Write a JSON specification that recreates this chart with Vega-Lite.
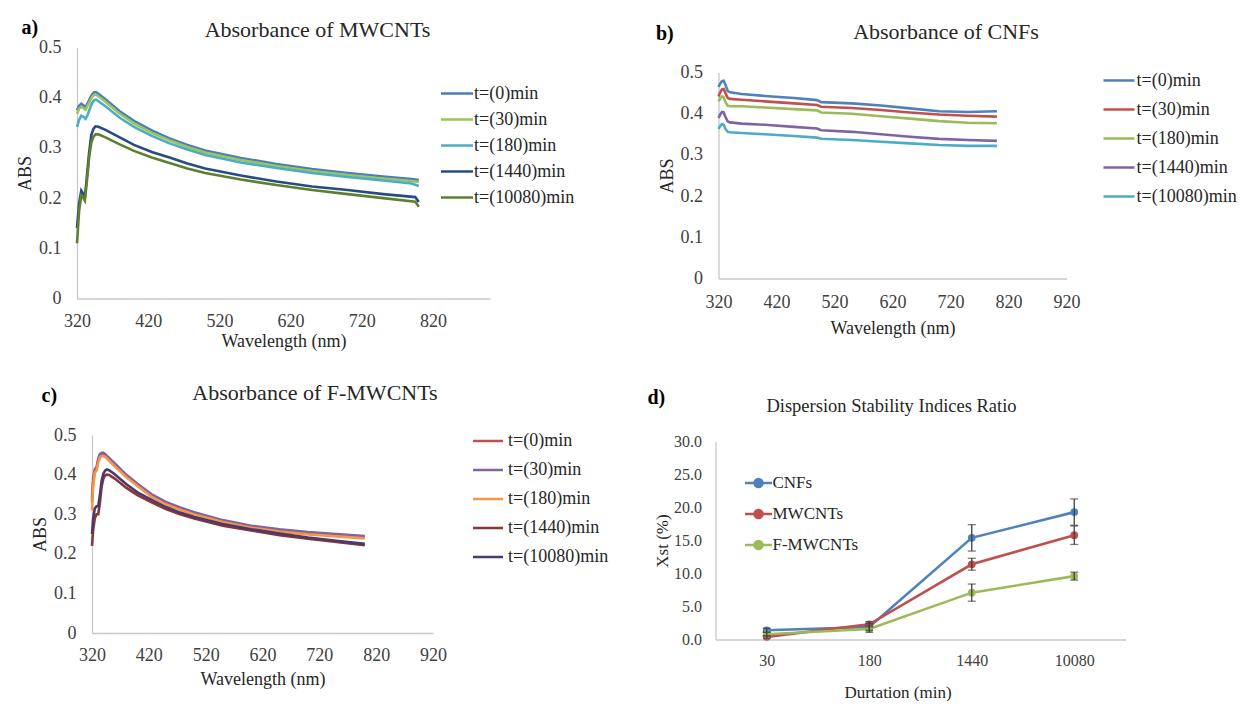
{
  "$schema": "https://vega.github.io/schema/vega-lite/v6.json",
  "background": "white",
  "padding": {"left": 16, "top": 17.5, "right": 0, "bottom": 0},
  "config": {
    "font": "Liberation Serif",
    "view": {"stroke": null},
    "axis": {"grid": false, "ticks": false, "labelFlush": false, "labelOverlap": false, "domainColor": "#C8C8C8", "domainWidth": 1.3, "labelColor": "#404040", "titleColor": "#262626", "labelFont": "Liberation Serif", "titleFont": "Liberation Serif", "labelFontSize": 18, "titleFontSize": 18, "titleFontWeight": "normal", "labelPadding": 14, "titlePadding": 4},
    "legend": {"labelFont": "Liberation Serif", "labelColor": "#262626", "labelFontSize": 18, "orient": "none", "title": null, "symbolSize": 100, "symbolStrokeWidth": 2.5},
    "title": {"font": "Liberation Serif", "fontWeight": "normal", "fontSize": 22, "color": "#262626"}
  },
  "datasets": {
    "mw": [
      {"s": "t=(0)min", "nm": 320, "v": 0.375}, {"s": "t=(0)min", "nm": 323, "v": 0.384}, {"s": "t=(0)min", "nm": 326, "v": 0.388}, {"s": "t=(0)min", "nm": 329, "v": 0.385}, {"s": "t=(0)min", "nm": 332, "v": 0.381}, {"s": "t=(0)min", "nm": 335, "v": 0.389}, {"s": "t=(0)min", "nm": 338, "v": 0.398}, {"s": "t=(0)min", "nm": 341, "v": 0.406}, {"s": "t=(0)min", "nm": 344, "v": 0.411}, {"s": "t=(0)min", "nm": 347, "v": 0.411}, {"s": "t=(0)min", "nm": 350, "v": 0.408}, {"s": "t=(0)min", "nm": 360, "v": 0.397}, {"s": "t=(0)min", "nm": 380, "v": 0.373}, {"s": "t=(0)min", "nm": 400, "v": 0.354}, {"s": "t=(0)min", "nm": 425, "v": 0.335}, {"s": "t=(0)min", "nm": 450, "v": 0.319}, {"s": "t=(0)min", "nm": 475, "v": 0.306}, {"s": "t=(0)min", "nm": 500, "v": 0.295}, {"s": "t=(0)min", "nm": 550, "v": 0.28}, {"s": "t=(0)min", "nm": 600, "v": 0.268}, {"s": "t=(0)min", "nm": 650, "v": 0.258}, {"s": "t=(0)min", "nm": 700, "v": 0.25}, {"s": "t=(0)min", "nm": 750, "v": 0.243}, {"s": "t=(0)min", "nm": 790, "v": 0.238}, {"s": "t=(0)min", "nm": 800, "v": 0.236},
      {"s": "t=(30)min", "nm": 320, "v": 0.368}, {"s": "t=(30)min", "nm": 323, "v": 0.378}, {"s": "t=(30)min", "nm": 326, "v": 0.382}, {"s": "t=(30)min", "nm": 329, "v": 0.379}, {"s": "t=(30)min", "nm": 332, "v": 0.376}, {"s": "t=(30)min", "nm": 335, "v": 0.384}, {"s": "t=(30)min", "nm": 338, "v": 0.393}, {"s": "t=(30)min", "nm": 341, "v": 0.401}, {"s": "t=(30)min", "nm": 344, "v": 0.406}, {"s": "t=(30)min", "nm": 347, "v": 0.406}, {"s": "t=(30)min", "nm": 350, "v": 0.403}, {"s": "t=(30)min", "nm": 360, "v": 0.392}, {"s": "t=(30)min", "nm": 380, "v": 0.368}, {"s": "t=(30)min", "nm": 400, "v": 0.349}, {"s": "t=(30)min", "nm": 425, "v": 0.33}, {"s": "t=(30)min", "nm": 450, "v": 0.315}, {"s": "t=(30)min", "nm": 475, "v": 0.302}, {"s": "t=(30)min", "nm": 500, "v": 0.291}, {"s": "t=(30)min", "nm": 550, "v": 0.276}, {"s": "t=(30)min", "nm": 600, "v": 0.264}, {"s": "t=(30)min", "nm": 650, "v": 0.254}, {"s": "t=(30)min", "nm": 700, "v": 0.246}, {"s": "t=(30)min", "nm": 750, "v": 0.239}, {"s": "t=(30)min", "nm": 790, "v": 0.234}, {"s": "t=(30)min", "nm": 800, "v": 0.232},
      {"s": "t=(180)min", "nm": 320, "v": 0.342}, {"s": "t=(180)min", "nm": 323, "v": 0.356}, {"s": "t=(180)min", "nm": 326, "v": 0.364}, {"s": "t=(180)min", "nm": 329, "v": 0.362}, {"s": "t=(180)min", "nm": 332, "v": 0.358}, {"s": "t=(180)min", "nm": 335, "v": 0.366}, {"s": "t=(180)min", "nm": 338, "v": 0.378}, {"s": "t=(180)min", "nm": 341, "v": 0.389}, {"s": "t=(180)min", "nm": 344, "v": 0.395}, {"s": "t=(180)min", "nm": 347, "v": 0.396}, {"s": "t=(180)min", "nm": 350, "v": 0.393}, {"s": "t=(180)min", "nm": 360, "v": 0.383}, {"s": "t=(180)min", "nm": 380, "v": 0.36}, {"s": "t=(180)min", "nm": 400, "v": 0.342}, {"s": "t=(180)min", "nm": 425, "v": 0.324}, {"s": "t=(180)min", "nm": 450, "v": 0.309}, {"s": "t=(180)min", "nm": 475, "v": 0.297}, {"s": "t=(180)min", "nm": 500, "v": 0.286}, {"s": "t=(180)min", "nm": 550, "v": 0.271}, {"s": "t=(180)min", "nm": 600, "v": 0.26}, {"s": "t=(180)min", "nm": 650, "v": 0.25}, {"s": "t=(180)min", "nm": 700, "v": 0.242}, {"s": "t=(180)min", "nm": 750, "v": 0.235}, {"s": "t=(180)min", "nm": 790, "v": 0.229}, {"s": "t=(180)min", "nm": 800, "v": 0.224},
      {"s": "t=(1440)min", "nm": 320, "v": 0.14}, {"s": "t=(1440)min", "nm": 323, "v": 0.19}, {"s": "t=(1440)min", "nm": 326, "v": 0.215}, {"s": "t=(1440)min", "nm": 329, "v": 0.208}, {"s": "t=(1440)min", "nm": 331, "v": 0.2}, {"s": "t=(1440)min", "nm": 334, "v": 0.245}, {"s": "t=(1440)min", "nm": 337, "v": 0.29}, {"s": "t=(1440)min", "nm": 340, "v": 0.325}, {"s": "t=(1440)min", "nm": 343, "v": 0.338}, {"s": "t=(1440)min", "nm": 346, "v": 0.343}, {"s": "t=(1440)min", "nm": 350, "v": 0.342}, {"s": "t=(1440)min", "nm": 360, "v": 0.336}, {"s": "t=(1440)min", "nm": 380, "v": 0.321}, {"s": "t=(1440)min", "nm": 400, "v": 0.306}, {"s": "t=(1440)min", "nm": 425, "v": 0.292}, {"s": "t=(1440)min", "nm": 450, "v": 0.281}, {"s": "t=(1440)min", "nm": 475, "v": 0.269}, {"s": "t=(1440)min", "nm": 500, "v": 0.259}, {"s": "t=(1440)min", "nm": 550, "v": 0.245}, {"s": "t=(1440)min", "nm": 600, "v": 0.233}, {"s": "t=(1440)min", "nm": 650, "v": 0.223}, {"s": "t=(1440)min", "nm": 700, "v": 0.216}, {"s": "t=(1440)min", "nm": 750, "v": 0.208}, {"s": "t=(1440)min", "nm": 795, "v": 0.202}, {"s": "t=(1440)min", "nm": 800, "v": 0.192},
      {"s": "t=(10080)min", "nm": 320, "v": 0.11}, {"s": "t=(10080)min", "nm": 323, "v": 0.175}, {"s": "t=(10080)min", "nm": 326, "v": 0.205}, {"s": "t=(10080)min", "nm": 329, "v": 0.2}, {"s": "t=(10080)min", "nm": 331, "v": 0.195}, {"s": "t=(10080)min", "nm": 334, "v": 0.235}, {"s": "t=(10080)min", "nm": 337, "v": 0.28}, {"s": "t=(10080)min", "nm": 340, "v": 0.31}, {"s": "t=(10080)min", "nm": 343, "v": 0.322}, {"s": "t=(10080)min", "nm": 346, "v": 0.327}, {"s": "t=(10080)min", "nm": 350, "v": 0.327}, {"s": "t=(10080)min", "nm": 360, "v": 0.321}, {"s": "t=(10080)min", "nm": 380, "v": 0.307}, {"s": "t=(10080)min", "nm": 400, "v": 0.294}, {"s": "t=(10080)min", "nm": 425, "v": 0.281}, {"s": "t=(10080)min", "nm": 450, "v": 0.27}, {"s": "t=(10080)min", "nm": 475, "v": 0.259}, {"s": "t=(10080)min", "nm": 500, "v": 0.25}, {"s": "t=(10080)min", "nm": 550, "v": 0.237}, {"s": "t=(10080)min", "nm": 600, "v": 0.226}, {"s": "t=(10080)min", "nm": 650, "v": 0.216}, {"s": "t=(10080)min", "nm": 700, "v": 0.208}, {"s": "t=(10080)min", "nm": 750, "v": 0.2}, {"s": "t=(10080)min", "nm": 795, "v": 0.193}, {"s": "t=(10080)min", "nm": 800, "v": 0.183}
    ],
    "cnf": [
      {"s": "t=(0)min", "nm": 320, "v": 0.465}, {"s": "t=(0)min", "nm": 323, "v": 0.473}, {"s": "t=(0)min", "nm": 326, "v": 0.479}, {"s": "t=(0)min", "nm": 329, "v": 0.48}, {"s": "t=(0)min", "nm": 332, "v": 0.47}, {"s": "t=(0)min", "nm": 336, "v": 0.455}, {"s": "t=(0)min", "nm": 340, "v": 0.452}, {"s": "t=(0)min", "nm": 360, "v": 0.448}, {"s": "t=(0)min", "nm": 400, "v": 0.443}, {"s": "t=(0)min", "nm": 450, "v": 0.438}, {"s": "t=(0)min", "nm": 490, "v": 0.433}, {"s": "t=(0)min", "nm": 497, "v": 0.428}, {"s": "t=(0)min", "nm": 550, "v": 0.425}, {"s": "t=(0)min", "nm": 600, "v": 0.42}, {"s": "t=(0)min", "nm": 650, "v": 0.413}, {"s": "t=(0)min", "nm": 700, "v": 0.406}, {"s": "t=(0)min", "nm": 750, "v": 0.404}, {"s": "t=(0)min", "nm": 800, "v": 0.406},
      {"s": "t=(30)min", "nm": 320, "v": 0.442}, {"s": "t=(30)min", "nm": 323, "v": 0.452}, {"s": "t=(30)min", "nm": 326, "v": 0.459}, {"s": "t=(30)min", "nm": 329, "v": 0.46}, {"s": "t=(30)min", "nm": 332, "v": 0.45}, {"s": "t=(30)min", "nm": 336, "v": 0.438}, {"s": "t=(30)min", "nm": 340, "v": 0.436}, {"s": "t=(30)min", "nm": 360, "v": 0.434}, {"s": "t=(30)min", "nm": 400, "v": 0.43}, {"s": "t=(30)min", "nm": 450, "v": 0.425}, {"s": "t=(30)min", "nm": 490, "v": 0.421}, {"s": "t=(30)min", "nm": 497, "v": 0.417}, {"s": "t=(30)min", "nm": 550, "v": 0.414}, {"s": "t=(30)min", "nm": 600, "v": 0.409}, {"s": "t=(30)min", "nm": 650, "v": 0.403}, {"s": "t=(30)min", "nm": 700, "v": 0.398}, {"s": "t=(30)min", "nm": 750, "v": 0.395}, {"s": "t=(30)min", "nm": 800, "v": 0.393},
      {"s": "t=(180)min", "nm": 320, "v": 0.43}, {"s": "t=(180)min", "nm": 323, "v": 0.437}, {"s": "t=(180)min", "nm": 326, "v": 0.442}, {"s": "t=(180)min", "nm": 329, "v": 0.44}, {"s": "t=(180)min", "nm": 332, "v": 0.428}, {"s": "t=(180)min", "nm": 336, "v": 0.419}, {"s": "t=(180)min", "nm": 340, "v": 0.418}, {"s": "t=(180)min", "nm": 360, "v": 0.418}, {"s": "t=(180)min", "nm": 400, "v": 0.415}, {"s": "t=(180)min", "nm": 450, "v": 0.411}, {"s": "t=(180)min", "nm": 490, "v": 0.408}, {"s": "t=(180)min", "nm": 497, "v": 0.403}, {"s": "t=(180)min", "nm": 550, "v": 0.4}, {"s": "t=(180)min", "nm": 600, "v": 0.394}, {"s": "t=(180)min", "nm": 650, "v": 0.388}, {"s": "t=(180)min", "nm": 700, "v": 0.382}, {"s": "t=(180)min", "nm": 750, "v": 0.378}, {"s": "t=(180)min", "nm": 800, "v": 0.377},
      {"s": "t=(1440)min", "nm": 320, "v": 0.39}, {"s": "t=(1440)min", "nm": 323, "v": 0.398}, {"s": "t=(1440)min", "nm": 326, "v": 0.404}, {"s": "t=(1440)min", "nm": 329, "v": 0.403}, {"s": "t=(1440)min", "nm": 332, "v": 0.392}, {"s": "t=(1440)min", "nm": 336, "v": 0.381}, {"s": "t=(1440)min", "nm": 340, "v": 0.379}, {"s": "t=(1440)min", "nm": 360, "v": 0.376}, {"s": "t=(1440)min", "nm": 400, "v": 0.373}, {"s": "t=(1440)min", "nm": 450, "v": 0.368}, {"s": "t=(1440)min", "nm": 490, "v": 0.364}, {"s": "t=(1440)min", "nm": 497, "v": 0.36}, {"s": "t=(1440)min", "nm": 550, "v": 0.356}, {"s": "t=(1440)min", "nm": 600, "v": 0.35}, {"s": "t=(1440)min", "nm": 650, "v": 0.344}, {"s": "t=(1440)min", "nm": 700, "v": 0.339}, {"s": "t=(1440)min", "nm": 750, "v": 0.336}, {"s": "t=(1440)min", "nm": 800, "v": 0.334},
      {"s": "t=(10080)min", "nm": 320, "v": 0.363}, {"s": "t=(10080)min", "nm": 323, "v": 0.37}, {"s": "t=(10080)min", "nm": 326, "v": 0.375}, {"s": "t=(10080)min", "nm": 329, "v": 0.373}, {"s": "t=(10080)min", "nm": 332, "v": 0.363}, {"s": "t=(10080)min", "nm": 336, "v": 0.356}, {"s": "t=(10080)min", "nm": 340, "v": 0.355}, {"s": "t=(10080)min", "nm": 360, "v": 0.353}, {"s": "t=(10080)min", "nm": 400, "v": 0.35}, {"s": "t=(10080)min", "nm": 450, "v": 0.346}, {"s": "t=(10080)min", "nm": 490, "v": 0.342}, {"s": "t=(10080)min", "nm": 497, "v": 0.339}, {"s": "t=(10080)min", "nm": 550, "v": 0.336}, {"s": "t=(10080)min", "nm": 600, "v": 0.332}, {"s": "t=(10080)min", "nm": 650, "v": 0.328}, {"s": "t=(10080)min", "nm": 700, "v": 0.324}, {"s": "t=(10080)min", "nm": 750, "v": 0.322}, {"s": "t=(10080)min", "nm": 800, "v": 0.322}
    ],
    "fmw": [
      {"s": "t=(0)min", "nm": 320, "v": 0.34}, {"s": "t=(0)min", "nm": 322, "v": 0.39}, {"s": "t=(0)min", "nm": 325, "v": 0.414}, {"s": "t=(0)min", "nm": 328, "v": 0.418}, {"s": "t=(0)min", "nm": 331, "v": 0.438}, {"s": "t=(0)min", "nm": 334, "v": 0.45}, {"s": "t=(0)min", "nm": 337, "v": 0.453}, {"s": "t=(0)min", "nm": 340, "v": 0.453}, {"s": "t=(0)min", "nm": 343, "v": 0.45}, {"s": "t=(0)min", "nm": 346, "v": 0.446}, {"s": "t=(0)min", "nm": 350, "v": 0.44}, {"s": "t=(0)min", "nm": 360, "v": 0.426}, {"s": "t=(0)min", "nm": 380, "v": 0.398}, {"s": "t=(0)min", "nm": 400, "v": 0.375}, {"s": "t=(0)min", "nm": 425, "v": 0.348}, {"s": "t=(0)min", "nm": 450, "v": 0.329}, {"s": "t=(0)min", "nm": 475, "v": 0.315}, {"s": "t=(0)min", "nm": 500, "v": 0.303}, {"s": "t=(0)min", "nm": 550, "v": 0.283}, {"s": "t=(0)min", "nm": 600, "v": 0.269}, {"s": "t=(0)min", "nm": 650, "v": 0.26}, {"s": "t=(0)min", "nm": 700, "v": 0.253}, {"s": "t=(0)min", "nm": 750, "v": 0.248}, {"s": "t=(0)min", "nm": 800, "v": 0.243},
      {"s": "t=(30)min", "nm": 320, "v": 0.33}, {"s": "t=(30)min", "nm": 322, "v": 0.38}, {"s": "t=(30)min", "nm": 325, "v": 0.41}, {"s": "t=(30)min", "nm": 328, "v": 0.415}, {"s": "t=(30)min", "nm": 331, "v": 0.44}, {"s": "t=(30)min", "nm": 334, "v": 0.452}, {"s": "t=(30)min", "nm": 337, "v": 0.455}, {"s": "t=(30)min", "nm": 340, "v": 0.455}, {"s": "t=(30)min", "nm": 343, "v": 0.452}, {"s": "t=(30)min", "nm": 346, "v": 0.448}, {"s": "t=(30)min", "nm": 350, "v": 0.442}, {"s": "t=(30)min", "nm": 360, "v": 0.428}, {"s": "t=(30)min", "nm": 380, "v": 0.4}, {"s": "t=(30)min", "nm": 400, "v": 0.377}, {"s": "t=(30)min", "nm": 425, "v": 0.35}, {"s": "t=(30)min", "nm": 450, "v": 0.331}, {"s": "t=(30)min", "nm": 475, "v": 0.317}, {"s": "t=(30)min", "nm": 500, "v": 0.305}, {"s": "t=(30)min", "nm": 550, "v": 0.285}, {"s": "t=(30)min", "nm": 600, "v": 0.271}, {"s": "t=(30)min", "nm": 650, "v": 0.262}, {"s": "t=(30)min", "nm": 700, "v": 0.255}, {"s": "t=(30)min", "nm": 750, "v": 0.25}, {"s": "t=(30)min", "nm": 800, "v": 0.245},
      {"s": "t=(180)min", "nm": 320, "v": 0.31}, {"s": "t=(180)min", "nm": 322, "v": 0.37}, {"s": "t=(180)min", "nm": 325, "v": 0.405}, {"s": "t=(180)min", "nm": 328, "v": 0.41}, {"s": "t=(180)min", "nm": 331, "v": 0.43}, {"s": "t=(180)min", "nm": 334, "v": 0.443}, {"s": "t=(180)min", "nm": 337, "v": 0.447}, {"s": "t=(180)min", "nm": 340, "v": 0.447}, {"s": "t=(180)min", "nm": 343, "v": 0.445}, {"s": "t=(180)min", "nm": 346, "v": 0.441}, {"s": "t=(180)min", "nm": 350, "v": 0.435}, {"s": "t=(180)min", "nm": 360, "v": 0.421}, {"s": "t=(180)min", "nm": 380, "v": 0.394}, {"s": "t=(180)min", "nm": 400, "v": 0.371}, {"s": "t=(180)min", "nm": 425, "v": 0.344}, {"s": "t=(180)min", "nm": 450, "v": 0.325}, {"s": "t=(180)min", "nm": 475, "v": 0.311}, {"s": "t=(180)min", "nm": 500, "v": 0.299}, {"s": "t=(180)min", "nm": 550, "v": 0.28}, {"s": "t=(180)min", "nm": 600, "v": 0.266}, {"s": "t=(180)min", "nm": 650, "v": 0.256}, {"s": "t=(180)min", "nm": 700, "v": 0.249}, {"s": "t=(180)min", "nm": 750, "v": 0.244}, {"s": "t=(180)min", "nm": 800, "v": 0.239},
      {"s": "t=(1440)min", "nm": 320, "v": 0.22}, {"s": "t=(1440)min", "nm": 322, "v": 0.26}, {"s": "t=(1440)min", "nm": 325, "v": 0.29}, {"s": "t=(1440)min", "nm": 328, "v": 0.3}, {"s": "t=(1440)min", "nm": 331, "v": 0.3}, {"s": "t=(1440)min", "nm": 334, "v": 0.33}, {"s": "t=(1440)min", "nm": 337, "v": 0.37}, {"s": "t=(1440)min", "nm": 340, "v": 0.39}, {"s": "t=(1440)min", "nm": 343, "v": 0.398}, {"s": "t=(1440)min", "nm": 346, "v": 0.4}, {"s": "t=(1440)min", "nm": 350, "v": 0.399}, {"s": "t=(1440)min", "nm": 360, "v": 0.39}, {"s": "t=(1440)min", "nm": 380, "v": 0.367}, {"s": "t=(1440)min", "nm": 400, "v": 0.348}, {"s": "t=(1440)min", "nm": 425, "v": 0.33}, {"s": "t=(1440)min", "nm": 450, "v": 0.313}, {"s": "t=(1440)min", "nm": 475, "v": 0.3}, {"s": "t=(1440)min", "nm": 500, "v": 0.289}, {"s": "t=(1440)min", "nm": 550, "v": 0.271}, {"s": "t=(1440)min", "nm": 600, "v": 0.259}, {"s": "t=(1440)min", "nm": 650, "v": 0.247}, {"s": "t=(1440)min", "nm": 700, "v": 0.238}, {"s": "t=(1440)min", "nm": 750, "v": 0.23}, {"s": "t=(1440)min", "nm": 800, "v": 0.222},
      {"s": "t=(10080)min", "nm": 320, "v": 0.25}, {"s": "t=(10080)min", "nm": 322, "v": 0.29}, {"s": "t=(10080)min", "nm": 325, "v": 0.315}, {"s": "t=(10080)min", "nm": 328, "v": 0.32}, {"s": "t=(10080)min", "nm": 331, "v": 0.32}, {"s": "t=(10080)min", "nm": 334, "v": 0.35}, {"s": "t=(10080)min", "nm": 337, "v": 0.385}, {"s": "t=(10080)min", "nm": 340, "v": 0.402}, {"s": "t=(10080)min", "nm": 343, "v": 0.41}, {"s": "t=(10080)min", "nm": 346, "v": 0.413}, {"s": "t=(10080)min", "nm": 350, "v": 0.411}, {"s": "t=(10080)min", "nm": 360, "v": 0.401}, {"s": "t=(10080)min", "nm": 380, "v": 0.376}, {"s": "t=(10080)min", "nm": 400, "v": 0.355}, {"s": "t=(10080)min", "nm": 425, "v": 0.336}, {"s": "t=(10080)min", "nm": 450, "v": 0.318}, {"s": "t=(10080)min", "nm": 475, "v": 0.304}, {"s": "t=(10080)min", "nm": 500, "v": 0.293}, {"s": "t=(10080)min", "nm": 550, "v": 0.275}, {"s": "t=(10080)min", "nm": 600, "v": 0.262}, {"s": "t=(10080)min", "nm": 650, "v": 0.251}, {"s": "t=(10080)min", "nm": 700, "v": 0.241}, {"s": "t=(10080)min", "nm": 750, "v": 0.233}, {"s": "t=(10080)min", "nm": 800, "v": 0.225}
    ],
    "dsi": [
      {"m": "CNFs", "d": "30", "v": 1.4, "lo": 1.1, "hi": 1.7}, {"m": "CNFs", "d": "180", "v": 1.9, "lo": 1.4, "hi": 2.4}, {"m": "CNFs", "d": "1440", "v": 15.4, "lo": 13.4, "hi": 17.4}, {"m": "CNFs", "d": "10080", "v": 19.3, "lo": 17.3, "hi": 21.3},
      {"m": "MWCNTs", "d": "30", "v": 0.4, "lo": 0.2, "hi": 0.6}, {"m": "MWCNTs", "d": "180", "v": 2.3, "lo": 1.9, "hi": 2.7}, {"m": "MWCNTs", "d": "1440", "v": 11.4, "lo": 10.5, "hi": 12.3}, {"m": "MWCNTs", "d": "10080", "v": 15.8, "lo": 14.4, "hi": 17.2},
      {"m": "F-MWCNTs", "d": "30", "v": 0.8, "lo": 0.5, "hi": 1.1}, {"m": "F-MWCNTs", "d": "180", "v": 1.6, "lo": 1.1, "hi": 2.1}, {"m": "F-MWCNTs", "d": "1440", "v": 7.1, "lo": 5.8, "hi": 8.4}, {"m": "F-MWCNTs", "d": "10080", "v": 9.6, "lo": 9.0, "hi": 10.2}
    ]
  },
  "spacing": 38.5,
  "resolve": {"scale": {"x": "independent", "y": "independent", "color": "independent"}, "axis": {"x": "independent", "y": "independent"}, "legend": {"color": "independent"}},
  "hconcat": [
    {
      "spacing": 30.5,
      "resolve": {"scale": {"x": "independent", "y": "independent", "color": "independent"}, "axis": {"x": "independent", "y": "independent"}, "legend": {"color": "independent"}},
      "vconcat": [
        {
          "title": {"text": "a)", "anchor": "start", "frame": "bounds", "fontWeight": "bold", "fontSize": 20, "offset": -19, "dx": 5, "color": "#000000"},
          "resolve": {"scale": {"x": "independent", "y": "independent", "color": "independent"}, "axis": {"x": "independent", "y": "independent"}, "legend": {"color": "independent"}},
          "vconcat": [
            {
              "data": {"name": "mw"},
              "width": 413,
              "height": 251,
              "title": {"text": "Absorbance of MWCNTs", "frame": "group", "anchor": "middle", "dx": 34, "offset": -3.5},
              "mark": {"type": "line", "strokeWidth": 2.6},
              "encoding": {
                "x": {"field": "nm", "type": "quantitative", "scale": {"domain": [320, 900], "nice": false, "zero": false}, "axis": {"title": "Wavelength (nm)", "values": [320, 420, 520, 620, 720, 820], "labelPadding": 14, "titlePadding": 2}},
                "y": {"field": "v", "type": "quantitative", "scale": {"domain": [0, 0.5], "nice": false}, "axis": {"title": "ABS", "values": [0, 0.1, 0.2, 0.3, 0.4, 0.5], "format": "~g", "labelPadding": 16}},
                "color": {"field": "s", "type": "nominal", "scale": {"domain": ["t=(0)min", "t=(30)min", "t=(180)min", "t=(1440)min", "t=(10080)min"], "range": ["#4A7EBB", "#9DC35A", "#4BACC6", "#254E7E", "#5E7F2E"]}, "legend": {"legendX": 360, "legendY": 37, "symbolType": "M-1,0H5.4", "labelOffset": 19, "rowPadding": 8}}
              }
            }
          ]
        },
        {
          "title": {"text": "c)", "anchor": "start", "frame": "bounds", "fontWeight": "bold", "fontSize": 20, "offset": -24, "dx": 10, "color": "#000000"},
          "resolve": {"scale": {"x": "independent", "y": "independent", "color": "independent"}, "axis": {"x": "independent", "y": "independent"}, "legend": {"color": "independent"}},
          "vconcat": [
            {
              "data": {"name": "fmw"},
              "width": 356,
              "height": 198,
              "title": {"text": "Absorbance of F-MWCNTs", "frame": "group", "anchor": "middle", "dx": 60, "offset": 21.5},
              "mark": {"type": "line", "strokeWidth": 2.6},
              "encoding": {
                "x": {"field": "nm", "type": "quantitative", "scale": {"domain": [320, 920], "range": [15, 356], "nice": false, "zero": false}, "axis": {"title": "Wavelength (nm)", "values": [320, 420, 520, 620, 720, 820, 920], "labelPadding": 13, "titlePadding": 6}},
                "y": {"field": "v", "type": "quantitative", "scale": {"domain": [0, 0.5], "nice": false}, "axis": {"title": "ABS", "values": [0, 0.1, 0.2, 0.3, 0.4, 0.5], "format": "~g", "labelPadding": 16, "offset": -15}},
                "color": {"field": "s", "type": "nominal", "scale": {"domain": ["t=(0)min", "t=(30)min", "t=(180)min", "t=(1440)min", "t=(10080)min"], "range": ["#C0504D", "#8064A2", "#F79646", "#8A3533", "#4A3A6E"]}, "legend": {"legendX": 392, "legendY": -3, "symbolType": "M-1,0H5", "labelOffset": 21, "rowPadding": 11}}
              }
            }
          ]
        }
      ]
    },
    {
      "spacing": 50,
      "resolve": {"scale": {"x": "independent", "y": "independent", "color": "independent"}, "axis": {"x": "independent", "y": "independent"}, "legend": {"color": "independent"}},
      "vconcat": [
        {
          "title": {"text": "b)", "anchor": "start", "frame": "bounds", "fontWeight": "bold", "fontSize": 20, "offset": -23, "dx": -2, "color": "#000000"},
          "resolve": {"scale": {"x": "independent", "y": "independent", "color": "independent"}, "axis": {"x": "independent", "y": "independent"}, "legend": {"color": "independent"}},
          "vconcat": [
            {
              "data": {"name": "cnf"},
              "width": 351,
              "height": 231,
              "title": {"text": "Absorbance of CNFs", "frame": "group", "anchor": "middle", "dx": 55, "offset": 4},
              "mark": {"type": "line", "strokeWidth": 2.6},
              "encoding": {
                "x": {"field": "nm", "type": "quantitative", "scale": {"domain": [320, 920], "range": [3, 351], "nice": false, "zero": false}, "axis": {"title": "Wavelength (nm)", "values": [320, 420, 520, 620, 720, 820, 920], "labelPadding": 15, "titlePadding": 8}},
                "y": {"field": "v", "type": "quantitative", "scale": {"domain": [0, 0.5], "range": [231, 25], "nice": false}, "axis": {"title": "ABS", "values": [0, 0.1, 0.2, 0.3, 0.4, 0.5], "format": "~g", "labelPadding": 16, "offset": -3}},
                "color": {"field": "s", "type": "nominal", "scale": {"domain": ["t=(0)min", "t=(30)min", "t=(180)min", "t=(1440)min", "t=(10080)min"], "range": ["#4F81BD", "#C0504D", "#9BBB59", "#8064A2", "#4BACC6"]}, "legend": {"legendX": 384, "legendY": 24, "symbolType": "M-1,0H5.2", "labelOffset": 19, "rowPadding": 11}}
              }
            }
          ]
        },
        {
          "title": {"text": "d)", "anchor": "start", "frame": "bounds", "fontWeight": "bold", "fontSize": 20, "offset": -11, "dx": -6, "color": "#000000"},
          "resolve": {"scale": {"x": "independent", "y": "independent", "color": "independent"}, "axis": {"x": "independent", "y": "independent"}, "legend": {"color": "independent"}},
          "vconcat": [
            {
              "data": {"name": "dsi"},
              "width": 410,
              "height": 198,
              "title": {"text": "Dispersion Stability Indices Ratio", "frame": "group", "anchor": "middle", "dx": -29, "offset": 18, "fontSize": 18.5},
              "encoding": {
                "x": {"field": "d", "type": "ordinal", "sort": ["30", "180", "1440", "10080"], "scale": {"type": "point", "padding": 0.5}, "axis": {"title": "Durtation (min)", "labelAngle": 0, "labelFontSize": 16, "titleFontSize": 17, "labelPadding": 13, "titlePadding": 16, "titleX": 182}}
              },
              "layer": [
                {
                  "mark": {"type": "line", "strokeWidth": 2.6},
                  "encoding": {
                    "y": {"field": "v", "type": "quantitative", "scale": {"domain": [0, 30], "nice": false}, "axis": {"title": "Xst (%)", "values": [0, 5, 10, 15, 20, 25, 30], "format": ".1f", "labelFontSize": 16, "titleFontSize": 17, "labelPadding": 14, "titlePadding": 2}},
                    "color": {"field": "m", "type": "nominal", "scale": {"domain": ["CNFs", "MWCNTs", "F-MWCNTs"], "range": ["#4F81BD", "#C0504D", "#9BBB59"]}, "legend": {"legendX": 26, "legendY": 33, "symbolType": "M-1,0H4.4M2.5,0A0.8,0.8,0,1,1,0.9,0A0.8,0.8,0,1,1,2.5,0", "labelOffset": 14, "rowPadding": 12, "labelFontSize": 17}}
                  }
                },
                {
                  "mark": {"type": "point", "filled": true, "size": 60, "opacity": 1},
                  "encoding": {
                    "y": {"field": "v", "type": "quantitative", "scale": {"domain": [0, 30], "nice": false}, "axis": {"title": "Xst (%)", "values": [0, 5, 10, 15, 20, 25, 30], "format": ".1f", "labelFontSize": 16, "titleFontSize": 17, "labelPadding": 14, "titlePadding": 2}},
                    "color": {"field": "m", "type": "nominal"}
                  }
                },
                {
                  "mark": {"type": "rule", "color": "#404040", "strokeWidth": 1.3},
                  "encoding": {
                    "y": {"field": "lo", "type": "quantitative", "scale": {"domain": [0, 30], "nice": false}, "axis": {"title": "Xst (%)", "values": [0, 5, 10, 15, 20, 25, 30], "format": ".1f", "labelFontSize": 16, "titleFontSize": 17, "labelPadding": 14, "titlePadding": 2}},
                    "y2": {"field": "hi"}
                  }
                },
                {
                  "mark": {"type": "tick", "color": "#404040", "thickness": 1.3, "size": 8, "orient": "horizontal"},
                  "encoding": {
                    "y": {"field": "lo", "type": "quantitative", "scale": {"domain": [0, 30], "nice": false}, "axis": {"title": "Xst (%)", "values": [0, 5, 10, 15, 20, 25, 30], "format": ".1f", "labelFontSize": 16, "titleFontSize": 17, "labelPadding": 14, "titlePadding": 2}}
                  }
                },
                {
                  "mark": {"type": "tick", "color": "#404040", "thickness": 1.3, "size": 8, "orient": "horizontal"},
                  "encoding": {
                    "y": {"field": "hi", "type": "quantitative", "scale": {"domain": [0, 30], "nice": false}, "axis": {"title": "Xst (%)", "values": [0, 5, 10, 15, 20, 25, 30], "format": ".1f", "labelFontSize": 16, "titleFontSize": 17, "labelPadding": 14, "titlePadding": 2}}
                  }
                }
              ]
            }
          ]
        }
      ]
    }
  ]
}
